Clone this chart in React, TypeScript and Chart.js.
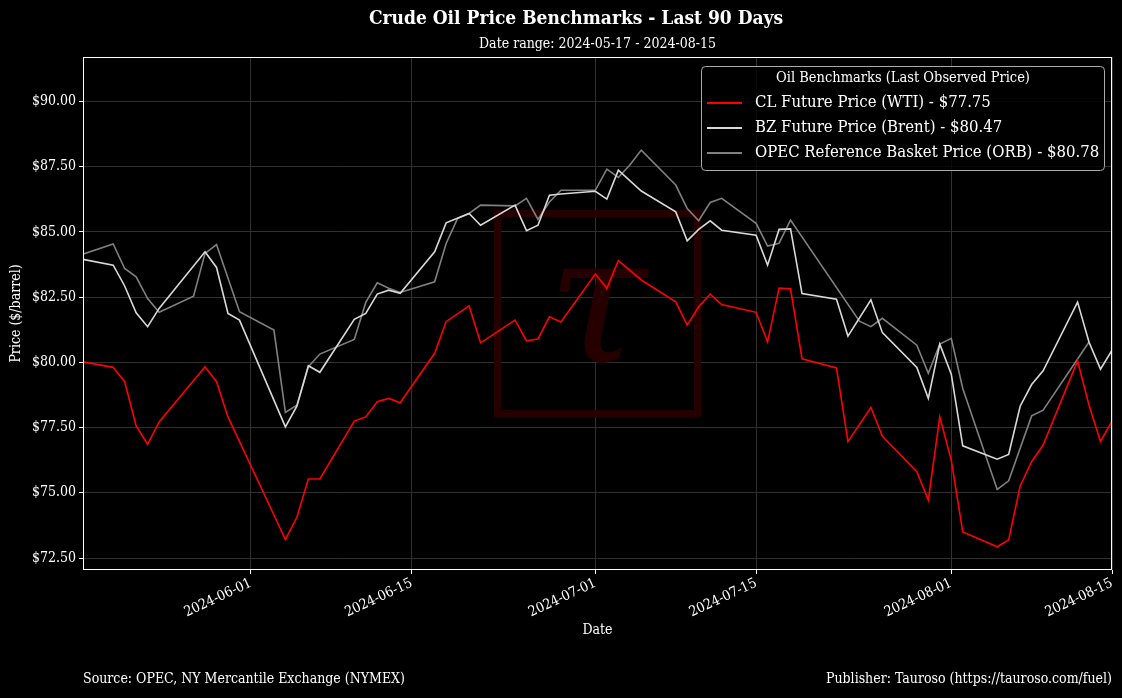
import { useEffect, useRef } from 'react';
import { Chart, registerables } from 'chart.js';
Chart.register(...registerables);

const START = '2024-05-17';
const END = '2024-08-15';

const DATES = [
  '2024-05-17', '2024-05-20', '2024-05-21', '2024-05-22', '2024-05-23', '2024-05-24', '2024-05-27', '2024-05-28',
  '2024-05-29', '2024-05-30', '2024-05-31', '2024-06-03', '2024-06-04', '2024-06-05', '2024-06-06', '2024-06-07',
  '2024-06-10', '2024-06-11', '2024-06-12', '2024-06-13', '2024-06-14', '2024-06-17', '2024-06-18', '2024-06-19',
  '2024-06-20', '2024-06-21', '2024-06-24', '2024-06-25', '2024-06-26', '2024-06-27', '2024-06-28', '2024-07-01',
  '2024-07-02', '2024-07-03', '2024-07-04', '2024-07-05', '2024-07-08', '2024-07-09', '2024-07-10', '2024-07-11',
  '2024-07-12', '2024-07-15', '2024-07-16', '2024-07-17', '2024-07-18', '2024-07-19', '2024-07-22', '2024-07-23',
  '2024-07-24', '2024-07-25', '2024-07-26', '2024-07-29', '2024-07-30', '2024-07-31', '2024-08-01', '2024-08-02',
  '2024-08-05', '2024-08-06', '2024-08-07', '2024-08-08', '2024-08-09', '2024-08-12', '2024-08-13', '2024-08-14',
  '2024-08-15',
];

const WTI: (number | null)[] = [
  80.05, 79.81, 79.26, 77.56, 76.86, 77.72, null, 79.83,
  79.26, 77.91, null, null, 73.21, 74.06, 75.53, 75.53,
  77.75, 77.91, 78.49, 78.62, 78.45, 80.35, 81.56, null,
  82.17, 80.75, 81.62, 80.83, 80.90, 81.75, 81.55, 83.39,
  82.84, 83.90, null, 83.16, 82.32, 81.43, 82.13, 82.62,
  82.22, 81.92, 80.78, 82.85, 82.82, 80.14, 79.79, 76.96,
  null, 78.27, 77.17, 75.81, 74.72, 77.91, 76.25, 73.50,
  72.93, 73.19, 75.26, 76.19, 76.83, 80.06, 78.36, 76.97,
  77.75,
];

const BRENT: (number | null)[] = [
  83.98, 83.73, 82.93, 81.90, 81.37, 82.07, null, 84.24,
  83.64, 81.88, 81.62, null, 77.53, 78.32, 79.87, 79.62,
  81.65, 81.88, 82.62, 82.77, 82.65, 84.24, 85.35, null,
  85.71, 85.26, 86.03, 85.05, 85.26, 86.41, 86.46, 86.56,
  86.26, 87.37, null, 86.57, 85.77, 84.66, 85.10, 85.43,
  85.07, 84.88, 83.73, 85.10, 85.12, 82.64, 82.42, 81.01,
  null, 82.40, 81.14, 79.81, 78.62, 80.70, 79.55, 76.80,
  76.29, 76.47, 78.32, 79.15, 79.68, 82.31, 80.77, 79.74,
  80.47,
];

const ORB: (number | null)[] = [
  84.10, 84.54, 83.60, 83.28, 82.45, 81.92, 82.54, 84.18,
  84.52, null, 81.94, 81.24, 78.08, 78.36, 79.83, 80.32,
  80.88, 82.30, 83.05, 82.84, 82.68, 83.09, 84.56, 85.52,
  85.71, 86.03, 86.00, 86.29, 85.48, 86.15, 86.60, 86.60,
  87.41, 87.09, 87.57, 88.14, 86.80, 85.90, 85.43, 86.13,
  86.29, 85.33, 84.46, 84.57, 85.46, null, null, null,
  81.58, 81.37, 81.69, 80.66, 79.58, 80.70, 80.92, 79.00,
  75.13, 75.46, null, 77.95, 78.17, null, 80.78, null,
  null,
];

const SERIES_NAMES = ['CL Future Price (WTI)', 'BZ Future Price (Brent)', 'OPEC Reference Basket Price (ORB)'];
const SERIES_COLORS = ['#ff0000', '#d9d9d9', '#808080'];
const Y_TICKS = [72.5, 75, 77.5, 80, 82.5, 85, 87.5, 90];
const X_TICKS = ['2024-06-01', '2024-06-15', '2024-07-01', '2024-07-15', '2024-08-01', '2024-08-15'];

const TITLE = 'Crude Oil Price Benchmarks - Last 90 Days';
const SUBTITLE = `Date range: ${START} - ${END}`;
const LEGEND_TITLE = 'Oil Benchmarks (Last Observed Price)';
const X_TITLE = 'Date';
const Y_TITLE = 'Price ($/barrel)';
const SOURCE = 'Source: OPEC, NY Mercantile Exchange (NYMEX)';
const PUBLISHER = 'Publisher: Tauroso (https://tauroso.com/fuel)';

const MS = 86400000;
const T0 = Date.parse(START + 'T00:00:00Z');
const dayNum = (s: string) => (Date.parse(s + 'T00:00:00Z') - T0) / MS;
const fmtDay = (n: number) => new Date(T0 + Math.round(n) * MS).toISOString().slice(0, 10);

const COND = '"DejaVu Serif Condensed", "DejaVu Serif", serif';
const REG = '"DejaVu Serif", serif';
const GRID = '#303030';
const MARK = '#260000';

const lastValue = (arr: (number | null)[]) => {
  for (let i = arr.length - 1; i >= 0; i--) if (arr[i] != null) return arr[i] as number;
  return 0;
};

const decor = {
  id: 'decor',
  beforeDatasetsDraw(chart: any) {
    const ctx = chart.ctx;
    ctx.save();
    ctx.strokeStyle = MARK;
    ctx.lineWidth = 7;
    ctx.strokeRect(497.5, 213.5, 200, 200);
    ctx.fillStyle = MARK;
    ctx.font = `italic 180px ${REG}`;
    ctx.textAlign = 'center';
    ctx.textBaseline = 'alphabetic';
    ctx.fillText('τ', 597, 362);
    ctx.restore();
  },
  afterDraw(chart: any) {
    const ctx = chart.ctx;
    const a = chart.chartArea;
    ctx.save();
    // spines
    ctx.strokeStyle = '#ffffff';
    ctx.lineWidth = 1;
    ctx.strokeRect(Math.round(a.left) + 0.5, Math.round(a.top) + 0.5, Math.round(a.right - a.left) - 1, Math.round(a.bottom - a.top) - 1);
    ctx.fillStyle = '#ffffff';
    ctx.textBaseline = 'middle';
    // title
    ctx.textAlign = 'center';
    ctx.font = `bold 19px ${COND}`;
    ctx.fillText(TITLE, 576, 19);
    ctx.font = `14px ${COND}`;
    ctx.fillText(SUBTITLE, (a.left + a.right) / 2, 44);
    // axis titles
    ctx.font = `14px ${COND}`;
    ctx.fillText(X_TITLE, (a.left + a.right) / 2, 630);
    ctx.save();
    ctx.translate(16, (a.top + a.bottom) / 2);
    ctx.rotate(-Math.PI / 2);
    ctx.fillText(Y_TITLE, 0, 0);
    ctx.restore();
    // footer
    ctx.textAlign = 'left';
    ctx.fillText(SOURCE, a.left, 679);
    ctx.textAlign = 'right';
    ctx.fillText(PUBLISHER, a.right, 679);
    // legend
    const bx = 701.5, by = 66.5, bw = 403, bh = 104;
    ctx.fillStyle = 'rgba(0,0,0,0.8)';
    ctx.strokeStyle = '#aaaaaa';
    ctx.beginPath();
    ctx.roundRect(bx, by, bw, bh, 4);
    ctx.fill();
    ctx.stroke();
    ctx.fillStyle = '#ffffff';
    ctx.textAlign = 'center';
    ctx.font = `14.5px ${COND}`;
    ctx.fillText(LEGEND_TITLE, bx + bw / 2, 78.5);
    ctx.textAlign = 'left';
    ctx.font = `16.6px ${COND}`;
    chart.data.datasets.forEach((ds: any, i: number) => {
      const y = 103 + i * 25;
      ctx.strokeStyle = ds.borderColor;
      ctx.lineWidth = 2;
      ctx.beginPath();
      ctx.moveTo(707, y);
      ctx.lineTo(742, y);
      ctx.stroke();
      ctx.fillStyle = '#ffffff';
      ctx.fillText(ds.label, 755, y);
    });
    ctx.restore();
  },
};

export default function App() {
  const ref = useRef<HTMLCanvasElement>(null);
  useEffect(() => {
    const canvas = ref.current as HTMLCanvasElement;
    const seriesValues = [WTI, BRENT, ORB];
    const datasets = seriesValues.map((vals, i) => ({
      label: `${SERIES_NAMES[i]} - $${lastValue(vals).toFixed(2)}`,
      data: DATES.map((d, j) => ({ x: dayNum(d), y: vals[j] })),
      borderColor: SERIES_COLORS[i],
      backgroundColor: SERIES_COLORS[i],
      borderWidth: 1.6,
      pointRadius: 0,
      tension: 0,
      spanGaps: true,
      fill: false,
    }));
    const chart = new Chart(canvas, {
      type: 'line',
      data: { datasets: datasets as any },
      options: {
        responsive: false,
        animation: false,
        devicePixelRatio: 1,
        layout: { padding: { top: 57, right: 10, left: 0, bottom: 0 } },
        plugins: {
          legend: { display: false },
          title: { display: false },
          tooltip: { enabled: false },
        },
        scales: {
          x: {
            type: 'linear',
            min: 0.37,
            max: dayNum(END),
            afterBuildTicks: (s: any) => {
              s.ticks = X_TICKS.map((d) => ({ value: dayNum(d) }));
            },
            afterFit: (s: any) => {
              s.height = 128;
              s.paddingLeft = 0;
              s.paddingRight = 0;
            },
            ticks: {
              color: '#ffffff',
              font: { family: COND, size: 14 },
              minRotation: 25,
              maxRotation: 25,
              autoSkip: false,
              padding: 1,
              callback: (v: any) => fmtDay(Number(v)),
            },
            grid: { color: GRID, lineWidth: 1, tickColor: '#ffffff', tickLength: 4, drawTicks: true },
            border: { display: false },
          },
          y: {
            type: 'linear',
            min: 72.04,
            max: 91.71,
            afterBuildTicks: (s: any) => {
              s.ticks = Y_TICKS.map((v) => ({ value: v }));
            },
            afterFit: (s: any) => {
              s.width = 83;
              s.paddingTop = 0;
              s.paddingBottom = 0;
            },
            ticks: {
              color: '#ffffff',
              font: { family: COND, size: 14 },
              padding: 3,
              callback: (v: any) => '$' + Number(v).toFixed(2),
            },
            grid: { color: GRID, lineWidth: 1, tickColor: '#ffffff', tickLength: 4, drawTicks: true },
            border: { display: false },
          },
        },
      },
      plugins: [decor],
    });
    return () => chart.destroy();
  }, []);
  return (
    <div style={{ position: 'fixed', left: 0, top: 0, width: 1122, height: 698, background: '#000000' }}>
      <canvas ref={ref} width={1122} height={698} style={{ display: 'block' }} />
    </div>
  );
}
